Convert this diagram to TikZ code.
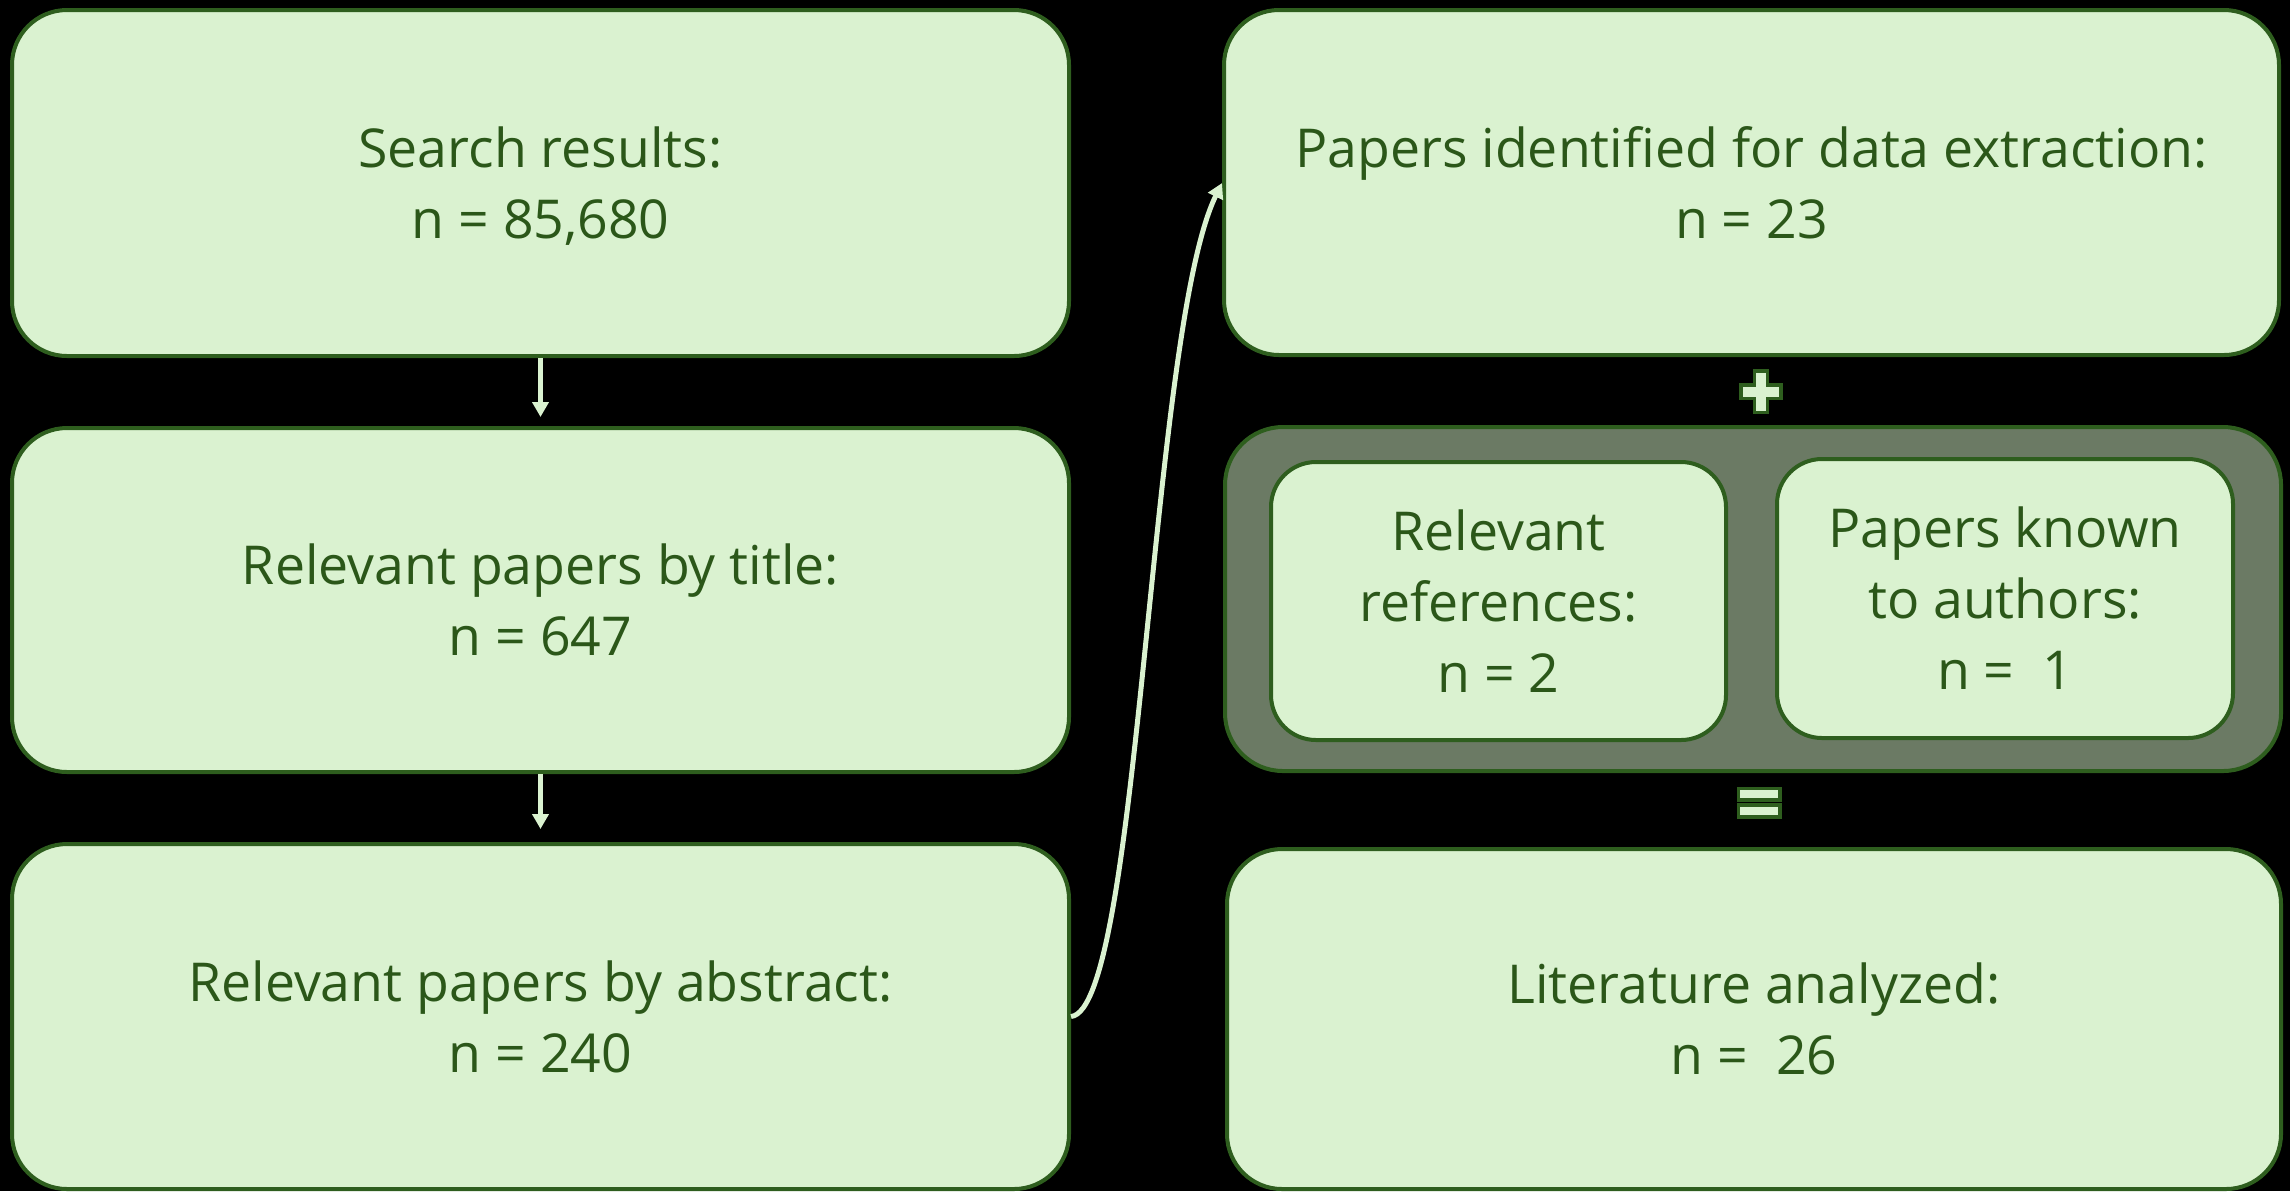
\documentclass[tikz,border=0pt]{standalone}
\usepackage{fontspec}
\setmainfont{Open Sans}
\usetikzlibrary{arrows.meta,calc}
\definecolor{boxfill}{HTML}{DAF2D0}
\definecolor{boxline}{HTML}{2E5E1E}
\definecolor{txtcol}{HTML}{2B5719}
\definecolor{grayfill}{HTML}{6B7A64}
\tikzset{
  box/.style={draw=boxline, fill=boxfill, line width=2pt, rounded corners=27.5pt,
    text=txtcol, align=center, inner sep=0pt,
    font=\fontsize{26.8}{35.5}\selectfont},
  boxtext/.style={text=txtcol, align=center, inner sep=0pt,
    font=\fontsize{26.8}{35.5}\selectfont},
  innerbox/.style={box, rounded corners=22.5pt},
  container/.style={draw=boxline, fill=grayfill, line width=2pt, rounded corners=29pt, inner sep=0pt},
  flowarrow/.style={draw=boxfill, line width=2.5pt, -{Triangle[width=8pt,length=7.5pt]}},
  symbol/.style={draw=boxline, fill=boxfill, line width=1.7pt}
}
\begin{document}
\begin{tikzpicture}[x=0.5pt,y=-0.5pt]
\fill[black] (0,0) rectangle (2290,1191);
\useasboundingbox (0,0) rectangle (2290,1191);
% left column
\node[box, minimum width=528.5pt, minimum height=173pt] (b1) at (540.5,183) {};
\node[boxtext] (b1t) at (540.5,186) {Search results:\\n = 85,680};
\node[box, minimum width=528.5pt, minimum height=172pt] (b2) at (540.5,600) {Relevant papers by title:\\n = 647};
\node[box, minimum width=528.5pt, minimum height=172.5pt] (b3) at (540.5,1016.5) {Relevant papers by abstract:\\n = 240};
% right column
\node[box, minimum width=527.5pt, minimum height=172.5pt] (r1) at (1751.5,182.5) {Papers identified for data extraction:\\n = 23};
\node[container, minimum width=528pt, minimum height=172pt] (cont) at (1753,599) {};
\node[innerbox, minimum width=227.5pt, minimum height=139pt] (i1) at (1498.5,601) {Relevant\\references:\\n = 2};
\node[innerbox, minimum width=228pt, minimum height=139.5pt] (i2) at (2005,598.5) {Papers known\\to authors:\\n =~~1};
\node[box, minimum width=527pt, minimum height=170pt] (r3) at (1754,1019) {Literature analyzed:\\n =~~26};
% arrows
\coordinate (a1end) at ($(b2.north)+(0,-9)$);
\coordinate (a2end) at ($(b3.north)+(0,-13)$);
\draw[flowarrow] (b1.south) -- (a1end);
\draw[flowarrow] (b2.south) -- (a2end);
\coordinate (cstart) at (b3.east);
\coordinate (cend) at ($(r1.west)+(0,0.5)$);
\draw[flowarrow] (cstart) .. controls (1140,1010) and (1150,330) .. (cend);
% plus sign
\draw[symbol] (1754.4,371) -- (1767.6,371) -- (1767.6,385) -- (1781,385) -- (1781,398.3)
  -- (1767.6,398.3) -- (1767.6,412.3) -- (1754.4,412.3) -- (1754.4,398.3) -- (1741,398.3)
  -- (1741,385) -- (1754.4,385) -- cycle;
% equals sign
\draw[symbol] (1738.4,788.4) rectangle (1780,800);
\draw[symbol] (1738.4,805) rectangle (1780,817);
\end{tikzpicture}
\end{document}
